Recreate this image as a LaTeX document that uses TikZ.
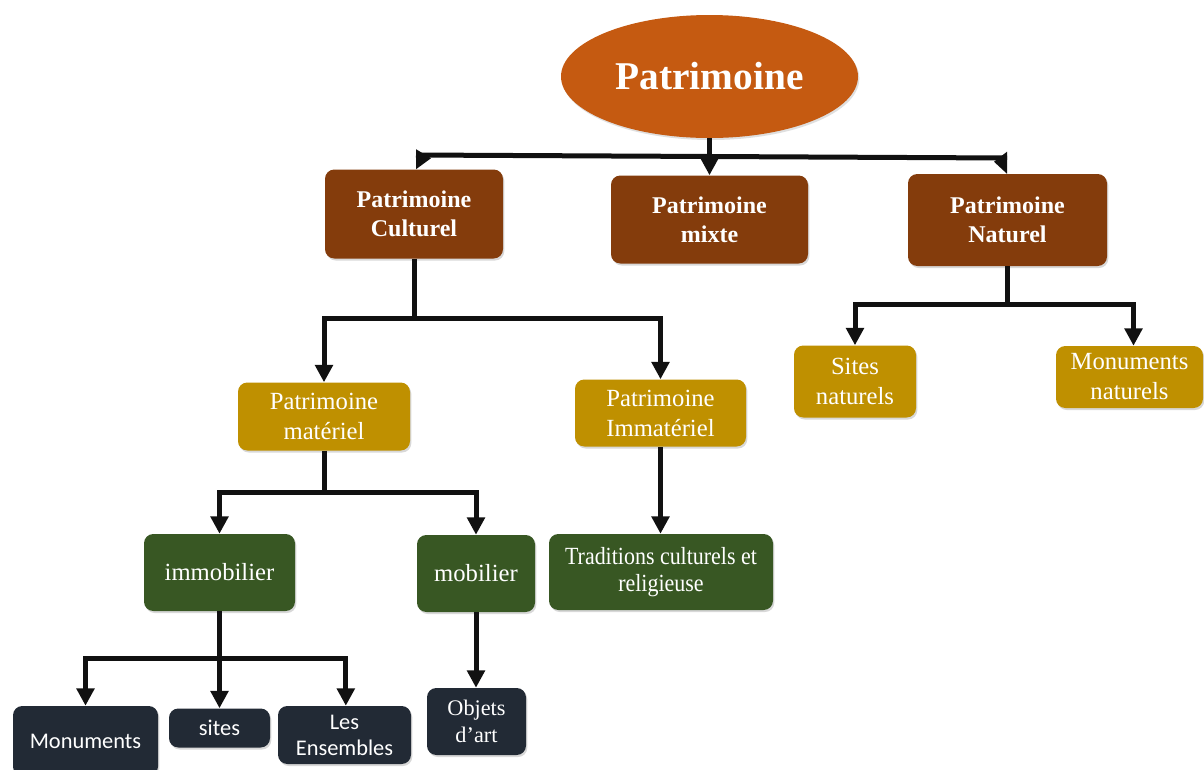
\documentclass[tikz,border=0pt]{standalone}
\usepackage{fontspec}
\setmainfont{Liberation Serif}
\newfontfamily\calib{Carlito}
\newfontfamily\narrowserif[FakeStretch=0.89]{Liberation Serif}
\usetikzlibrary{arrows.meta,shapes.geometric,shadows}
\definecolor{cEll}{HTML}{C55A11}
\definecolor{cBrown}{HTML}{843C0C}
\definecolor{cGold}{HTML}{BF9000}
\definecolor{cGreen}{HTML}{385723}
\definecolor{cDark}{HTML}{222A35}
\definecolor{cLine}{HTML}{111111}
\tikzset{
  sz/.style 2 args={minimum width=#1*0.75pt, minimum height=#2*0.75pt},
  boxbase/.style={rounded corners=7pt, inner sep=0pt, align=center, text=white,
    drop shadow={opacity=0.3, shadow xshift=1pt, shadow yshift=-1.5pt}},
  brownbox/.style={boxbase, fill=cBrown, font=\bfseries\fontsize{18}{22}\selectfont},
  goldbox/.style={boxbase, fill=cGold, font=\fontsize{18.5}{22.5}\selectfont},
  greenbox/.style={boxbase, fill=cGreen, font=\fontsize{18.5}{22.5}\selectfont},
  darkbox/.style={boxbase, fill=cDark, font=\calib\fontsize{16.8}{19.5}\selectfont},
  ln/.style={draw=cLine, line width=3.75pt},
  arr/.style={ln, -{Triangle[width=13pt,length=13pt]}},
}
\begin{document}
\begin{tikzpicture}[x=0.75pt,y=-0.75pt]
\useasboundingbox (0,0) rectangle (1204,769);
\clip (0,0) rectangle (1204,769);
\fill[white] (0,0) rectangle (1204,769);

% root
\node[ellipse, fill=cEll, sz={297}{123}, inner sep=0pt, text=white,
  font=\bfseries\fontsize{29.5}{34}\selectfont,
  drop shadow={opacity=0.25, shadow xshift=1pt, shadow yshift=-1.5pt}] (ell) at (709.5,76.5) {Patrimoine};

% level 1
\node[brownbox, sz={178}{89}] (cult) at (414,214) {Patrimoine\\Culturel};
\node[brownbox, sz={197}{88}] (mix) at (709.5,219.5) {Patrimoine\\mixte};
\node[brownbox, sz={199}{92}] (nat) at (1007.5,220) {Patrimoine\\Naturel};

% level 2
\node[goldbox, sz={172}{68}] (mat) at (324,416.5) {Patrimoine\\matériel};
\node[goldbox, sz={171}{67}] (imm) at (660.5,413) {Patrimoine\\Immatériel};
\node[goldbox, sz={122}{72}] (sn) at (855,381.5) {Sites\\naturels};
\node[goldbox, sz={147}{62}] (mn) at (1129.5,377) {Monuments\\naturels};

% level 3
\node[greenbox, sz={151}{77}] (immo) at (219.5,572.5) {immobilier};
\node[greenbox, sz={118}{77}] (mob) at (476,573.5) {mobilier};
\node[greenbox, sz={224}{76}, font=\narrowserif\fontsize{18.5}{20.5}\selectfont] (trad) at (661,572) {Traditions culturels et\\religieuse};

% level 4
\node[darkbox, sz={145}{70}] (mon) at (85.5,741) {Monuments};
\node[darkbox, sz={101}{39}] (sit) at (219.5,728) {sites};
\node[darkbox, sz={133}{58}] (ens) at (344.5,735) {Les\\Ensembles};
\node[darkbox, sz={99}{67}, font=\fontsize{16.7}{19.8}\selectfont] (obj) at (476.5,721.5) {Objets\\d’art};

% top connectors
\coordinate (tl) at (416,155);
\coordinate (tr) at (1007,158);
\draw[ln] (tl) -- (tr);
\fill[cLine] (tl |- cult.north) -- ++(0,-20) -- ++(15,9) -- cycle;
\fill[cLine] (tr |- nat.north) -- ++(0,-22) -- ++(-13,10) -- cycle;
\draw[arr] (ell.south) -- (mix.north);

% culturel branch
\coordinate (jc) at (414,318);
\draw[ln] (cult.south) -- (jc);
\draw[arr] (jc) -| (mat.north);
\draw[arr] (jc) -| (imm.north);

% naturel branch
\coordinate (jn) at (1007.5,304);
\draw[ln] (nat.south) -- (jn);
\draw[arr] (jn) -| (sn.north);
\draw[arr] (jn) -| ([xshift=3pt]mn.north);

% materiel branch
\coordinate (jm) at (324,492);
\draw[ln] (mat.south) -- (jm);
\draw[arr] (jm) -| (immo.north);
\draw[arr] (jm) -| (mob.north);

% immateriel
\draw[arr] (imm.south) -- (trad.north -| imm.south);

% immobilier branch
\coordinate (ji) at (219.5,658);
\draw[ln] (immo.south) -- (ji);
\draw[arr] (ji) -| (mon.north);
\draw[arr] (ji) -- (sit.north);
\draw[arr] (ji) -| ([xshift=1pt]ens.north);

% mobilier
\draw[arr] (mob.south) -- (obj.north -| mob.south);
\end{tikzpicture}
\end{document}
